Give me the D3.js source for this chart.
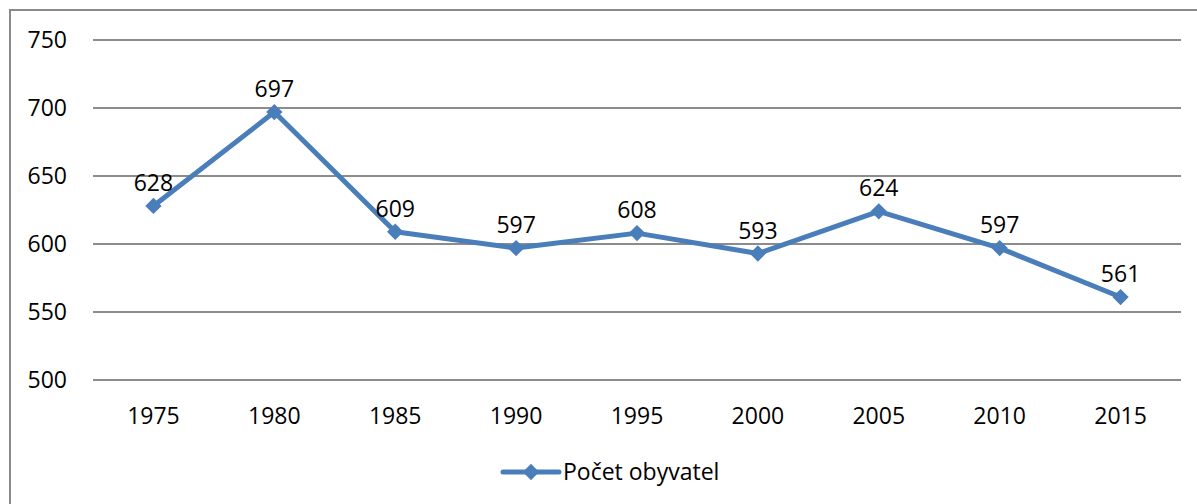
<!DOCTYPE html>
<html>
<head>
<meta charset="utf-8">
<script src="https://cdn.jsdelivr.net/npm/d3@7"></script>
<style>
  body { margin: 0; background: #fff; }
  svg { display: block; font-family: "Open Sans", sans-serif; }
</style>
</head>
<body>
<svg width="1197" height="504"></svg>
<script>
// data
const years = ["1975", "1980", "1985", "1990", "1995", "2000", "2005", "2010", "2015"];
const population = [628, 697, 609, 597, 608, 593, 624, 597, 561];
const yTicks = [500, 550, 600, 650, 700, 750];
const seriesName = "Počet obyvatel";

const svg = d3.select("svg");
const blue = "#4a7ebb";
const gridColor = "#8c8c8c";

// outer frame (top + left visible)
svg.append("path")
  .attr("d", "M10,504 L10,10 L1197,10")
  .attr("fill", "none")
  .attr("stroke", "#8a8a8a")
  .attr("stroke-width", 2);

const margin = { left: 93, right: 1181, top: 40, bottom: 380 };

const x = d3.scaleBand()
  .domain(years)
  .range([margin.left, margin.right]);

const y = d3.scaleLinear()
  .domain([500, 750])
  .range([margin.bottom, margin.top]);

// gridlines
svg.append("g")
  .selectAll("line")
  .data(yTicks)
  .enter()
  .append("line")
  .attr("x1", margin.left)
  .attr("x2", margin.right)
  .attr("y1", d => y(d))
  .attr("y2", d => y(d))
  .attr("stroke", gridColor)
  .attr("stroke-width", 2);

// y labels
svg.append("g")
  .selectAll("text")
  .data(yTicks)
  .enter()
  .append("text")
  .attr("x", 67)
  .attr("y", d => y(d))
  .attr("dy", "0.35em")
  .attr("text-anchor", "end")
  .attr("font-size", 23)
  .attr("fill", "#000")
  .text(d => d);

// x labels
svg.append("g")
  .selectAll("text")
  .data(years)
  .enter()
  .append("text")
  .attr("x", d => x(d) + x.bandwidth() / 2)
  .attr("y", 424)
  .attr("text-anchor", "middle")
  .attr("font-size", 23)
  .attr("fill", "#000")
  .text(d => d);

const pts = years.map((yr, i) => ({ year: yr, value: population[i] }));
const cx = d => x(d.year) + x.bandwidth() / 2;

// line
svg.append("path")
  .datum(pts)
  .attr("fill", "none")
  .attr("stroke", blue)
  .attr("stroke-width", 5)
  .attr("stroke-linejoin", "round")
  .attr("d", d3.line().x(cx).y(d => y(d.value)));

// markers
const diamond = d3.symbol().type(d3.symbolDiamond2).size(170);
svg.append("g")
  .selectAll("path")
  .data(pts)
  .enter()
  .append("path")
  .attr("transform", d => `translate(${cx(d)},${y(d.value)})`)
  .attr("d", diamond)
  .attr("fill", blue);

// data labels
svg.append("g")
  .selectAll("text")
  .data(pts)
  .enter()
  .append("text")
  .attr("x", d => cx(d))
  .attr("y", d => y(d.value) - 15)
  .attr("text-anchor", "middle")
  .attr("font-size", 23)
  .attr("fill", "#000")
  .text(d => d.value);

// legend
const lg = svg.append("g").attr("transform", "translate(503,472)");
lg.append("line")
  .attr("x1", 0).attr("x2", 56)
  .attr("stroke", blue)
  .attr("stroke-width", 5)
  .attr("stroke-linecap", "round");
lg.append("path")
  .attr("transform", "translate(28,0)")
  .attr("d", diamond)
  .attr("fill", blue);
lg.append("text")
  .attr("x", 60)
  .attr("dy", "0.35em")
  .attr("font-size", 23)
  .attr("fill", "#000")
  .text(seriesName);
</script>
</body>
</html>
